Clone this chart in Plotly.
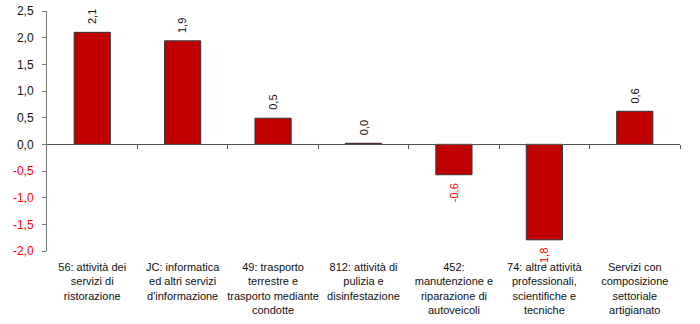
import plotly.graph_objects as go

categories = [
    "56: attività dei<br>servizi di<br>ristorazione",
    "JC: informatica<br>ed altri servizi<br>d'informazione",
    "49: trasporto<br>terrestre e<br>trasporto mediante<br>condotte",
    "812: attività di<br>pulizia e<br>disinfestazione",
    "452:<br>manutenzione e<br>riparazione di<br>autoveicoli",
    "74: altre attività<br>professionali,<br>scientifiche e<br>tecniche",
    "Servizi con<br>composizione<br>settoriale<br>artigianato",
]
values = [2.10, 1.94, 0.49, 0.02, -0.57, -1.79, 0.62]
value_labels = ["2,1", "1,9", "0,5", "0,0", "-0,6", "-1,8", "0,6"]
y_ticks = [2.5, 2.0, 1.5, 1.0, 0.5, 0.0, -0.5, -1.0, -1.5, -2.0]
y_ticktext = ["2,5", "2,0", "1,5", "1,0", "0,5", "0,0", "-0,5", "-1,0", "-1,5", "-2,0"]

FONT = "Liberation Sans, Arial, sans-serif"
y_min, y_max = -2.0, 2.5
n = len(categories)
x_idx = list(range(n))

fig = go.Figure()
fig.add_trace(go.Bar(
    x=x_idx, y=values, width=0.4,
    marker=dict(color="#C00000", line=dict(color="#333333", width=1)),
    showlegend=False, hoverinfo="skip",
))

for i, (v, lab) in enumerate(zip(values, value_labels)):
    neg = v < 0
    fig.add_annotation(
        x=i, y=v, text=lab, showarrow=False, textangle=-90,
        xanchor="center", yanchor="top" if neg else "bottom",
        yshift=-6 if neg else 6,
        font=dict(family=FONT, size=11, color="#FF0000" if neg else "#111111"),
    )

ticktext = [
    f"<span style='color:#FF0000'>{t}</span>" if v < 0 else t
    for v, t in zip(y_ticks, y_ticktext)
]

zero_pos = (0 - y_min) / (y_max - y_min)

fig.update_layout(
    width=700, height=324,
    margin=dict(l=47, r=20, t=11, b=73, autoexpand=False),
    paper_bgcolor="white", plot_bgcolor="white",
    font=dict(family=FONT, size=11, color="#111111"),
    xaxis=dict(
        range=[-0.5, n - 0.5], tickvals=x_idx, ticktext=categories,
        showline=False, showgrid=False, zeroline=False, ticks="",
        tickfont=dict(family=FONT, size=11, color="#111111"),
        ticklabelstandoff=8, automargin=False,
    ),
    xaxis2=dict(
        overlaying="x", anchor="free", position=zero_pos,
        range=[-0.5, n - 0.5],
        tickvals=[i + 0.5 for i in range(n)],
        showticklabels=False, showline=True, linecolor="#555555", linewidth=1,
        ticks="outside", ticklen=4, tickcolor="#555555", showgrid=False, zeroline=False,
    ),
    yaxis=dict(
        range=[y_min, y_max], tickvals=y_ticks, ticktext=ticktext,
        showline=True, linecolor="#777777", linewidth=1,
        ticks="outside", ticklen=4, tickcolor="#777777",
        showgrid=False, zeroline=False, automargin=False,
        tickfont=dict(family=FONT, size=12, color="#111111"),
        ticklabelstandoff=6,
    ),
)
fig.add_trace(go.Scatter(x=[0], y=[0], xaxis="x2", mode="markers",
                         marker=dict(opacity=0), showlegend=False, hoverinfo="skip"))

fig.write_html("out.html")
